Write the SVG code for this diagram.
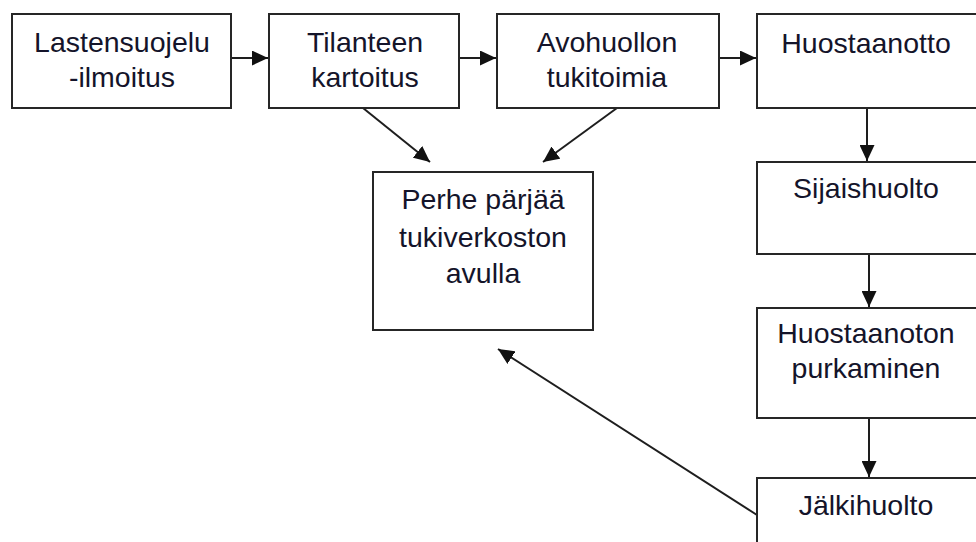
<svg xmlns="http://www.w3.org/2000/svg" width="976" height="542" viewBox="0 0 976 542">
<defs>
<style>
.box{fill:#fff;stroke:#262626;stroke-width:2}
.t{font-family:"Liberation Sans",Arial,sans-serif;font-size:28.5px;fill:#14142a;text-anchor:middle}
.c{stroke:#1e1e1e;stroke-width:2;fill:none;marker-end:url(#ah)}
</style>
<marker id="ah" markerWidth="16" markerHeight="15" refX="16" refY="7.5" orient="auto" markerUnits="userSpaceOnUse">
<path d="M0,0 L16,7.5 L0,15 Z" fill="#111"/>
</marker>
</defs>
<rect width="976" height="542" fill="#fff"/>
<g id="connectors">
<line class="c" x1="231" y1="58" x2="268" y2="58"/>
<line class="c" x1="459" y1="58" x2="496" y2="58"/>
<line class="c" x1="719" y1="58" x2="756" y2="58"/>
<line class="c" x1="363" y1="108" x2="430" y2="162"/>
<line class="c" x1="617" y1="108" x2="543" y2="162"/>
<line class="c" x1="867" y1="108" x2="867" y2="161"/>
<line class="c" x1="869" y1="255" x2="869" y2="307"/>
<line class="c" x1="869" y1="418" x2="869" y2="477"/>
<line class="c" x1="757" y1="515" x2="498" y2="349"/>
</g>
<g id="n1">
<rect class="box" x="12" y="14" width="219" height="94"/>
<text class="t" x="122" y="52">Lastensuojelu</text>
<text class="t" x="122" y="87">-ilmoitus</text>
</g>
<g id="n2">
<rect class="box" x="269" y="14" width="190" height="94"/>
<text class="t" x="365" y="52">Tilanteen</text>
<text class="t" x="365" y="87">kartoitus</text>
</g>
<g id="n3">
<rect class="box" x="497" y="14" width="222" height="94"/>
<text class="t" x="607" y="52">Avohuollon</text>
<text class="t" x="607" y="87">tukitoimia</text>
</g>
<g id="n4">
<rect class="box" x="757" y="14" width="222" height="94"/>
<text class="t" x="866" y="53">Huostaanotto</text>
</g>
<g id="n5">
<rect class="box" x="373" y="172" width="220" height="158"/>
<text class="t" x="483" y="209">Perhe pärjää</text>
<text class="t" x="483" y="247">tukiverkoston</text>
<text class="t" x="483" y="283">avulla</text>
</g>
<g id="n6">
<rect class="box" x="757" y="162" width="222" height="92"/>
<text class="t" x="866" y="198">Sijaishuolto</text>
</g>
<g id="n7">
<rect class="box" x="757" y="308" width="222" height="110"/>
<text class="t" x="866" y="343">Huostaanoton</text>
<text class="t" x="866" y="378">purkaminen</text>
</g>
<g id="n8">
<rect class="box" x="757" y="478" width="222" height="80"/>
<text class="t" x="866" y="515">Jälkihuolto</text>
</g>
</svg>
